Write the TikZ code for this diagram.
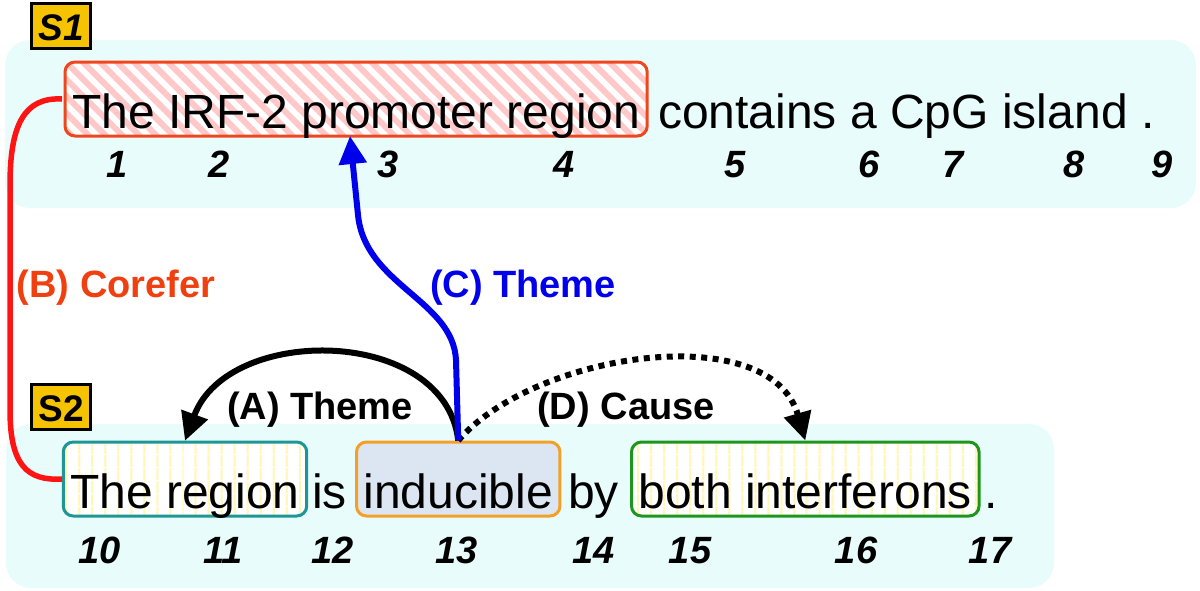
\documentclass[tikz,border=0pt]{standalone}
\usepackage{fontspec}
\setmainfont{Liberation Sans}
\usetikzlibrary{arrows.meta,patterns.meta}
\definecolor{bgcyan}{RGB}{232,252,252}
\definecolor{hatchred}{RGB}{255,200,200}
\definecolor{boxred}{RGB}{240,70,30}
\definecolor{boxteal}{RGB}{30,150,150}
\definecolor{boxorange}{RGB}{242,160,40}
\definecolor{boxgreen}{RGB}{30,150,30}
\definecolor{indfill}{RGB}{220,230,242}
\definecolor{stripey}{RGB}{255,246,185}
\definecolor{sgold}{RGB}{245,195,0}
\definecolor{labred}{RGB}{240,64,16}
\definecolor{linered}{RGB}{255,20,20}
\definecolor{lineblue}{RGB}{0,0,235}
\begin{document}
\begin{tikzpicture}[x=1pt,y=-1pt,
  bigtxt/.style={font=\fontsize{48}{56}\selectfont, inner sep=0pt, anchor=base west},
  tok/.style={font=\fontsize{48}{56}\selectfont, anchor=base west, inner xsep=7pt, inner ysep=0pt,
    text height=66pt, text depth=8pt, rounded corners=10pt, line width=3pt},
  hatchbox/.style={tok, draw=boxred, preaction={fill=white},
    pattern={Lines[angle=-45,distance=12pt,line width=6pt]}, pattern color=hatchred},
  stripebox/.style={tok, preaction={fill=white},
    pattern={Lines[angle=90,distance=13pt,line width=2.5pt]}, pattern color=stripey},
  num/.style={font=\fontsize{38}{44}\selectfont\bfseries\itshape, anchor=base, inner sep=0pt},
  slab/.style={draw=black, line width=3pt, fill=sgold, font=\fontsize{37}{42}\selectfont\bfseries,
    minimum width=59pt, text height=28pt, text depth=0pt, inner ysep=8.5pt, inner xsep=0pt},
  lab/.style={font=\fontsize{38}{44}\selectfont\bfseries, inner sep=0pt, anchor=base},
  arr/.style={line width=6pt, -{Triangle[length=28pt,width=27pt]}},
]
\useasboundingbox (0,0) rectangle (1200,590);
% backgrounds
\fill[bgcyan, rounded corners=25pt] (5,40) rectangle (1196,208);
\fill[bgcyan, rounded corners=25pt] (6,424) rectangle (1054,588);
% sentence labels
\node[slab, font=\fontsize{37}{42}\selectfont\bfseries\itshape] (s1lab) at (61,26) {S1};
\node[slab] (s2lab) at (61,407) {S2};
% sentence 1
\node[hatchbox] (s1box) at (62,128) {The IRF-2 promoter region};
\node[bigtxt] (s1rest) at (658,128) {contains a CpG island .};
% sentence 2
\node[stripebox, draw=boxteal] (reg) at (62,508) {The region};
\node[bigtxt] (is) at (312,508) {is};
\node[tok, draw=boxorange, fill=indfill] (ind) at (355,508) {inducible};
\node[bigtxt] (by) at (568,508) {by};
\node[stripebox, draw=boxgreen] (int) at (630,508) {both interferons};
\node[bigtxt] (dot2) at (984,508) {.};
% token numbers
\foreach \n/\x in {1/117,2/219,3/388,4/564,5/735,6/869,7/953,8/1074,9/1162}
  \node[num] (n\n) at (\x,177) {\n};
\foreach \n/\x in {10/100,11/223,12/333,13/457,14/594,15/690,16/856,17/990}
  \node[num] (n\n) at (\x,563) {\n};
% relation labels
\node[lab, text=labred] (lB) at (116,297) {(B) Corefer};
\node[lab, text=lineblue] (lC) at (523,297) {(C) Theme};
\node[lab] (lA) at (320,419) {(A) Theme};
\node[lab] (lD) at (626,419) {(D) Cause};
% connectors
\draw[linered, line width=5.5pt] (s1box.west) .. controls (24,97) and (10,125) .. (10,185)
  -- (10,410) .. controls (10,465) and (27,481) .. (reg.west);
\draw[arr] (ind.north) .. controls (445,326) and (228,324) .. (reg.north);
\draw[arr, dash pattern=on 6pt off 5.5pt] (ind.north) .. controls (535,352) and (770,318) .. (int.north);
\coordinate (cT) at (350,136);
\draw[arr, lineblue, line width=6pt] (ind.north) -- (456,360) .. controls (453,300) and (365,285) .. (358,215) -- (cT);
\end{tikzpicture}
\end{document}
